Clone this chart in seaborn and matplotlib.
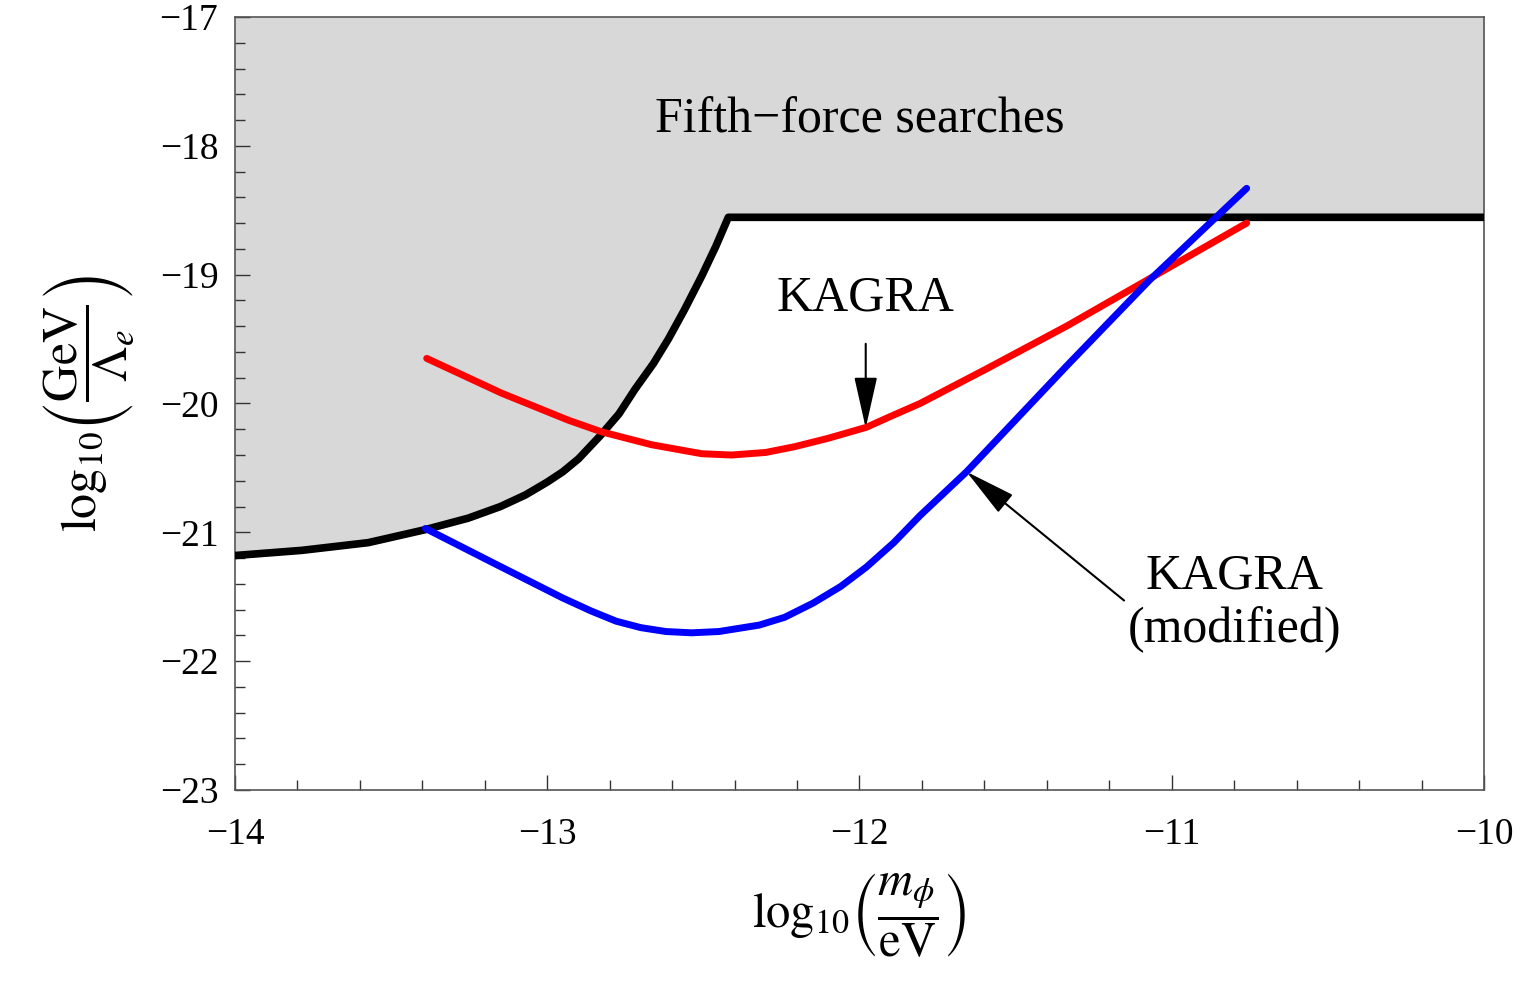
import numpy as np
import pandas as pd
import seaborn as sns
import matplotlib.pyplot as plt
from matplotlib.ticker import MultipleLocator

# values (log10 m_phi / eV , log10 GeV / Lambda_e)
fifth_x = [-14.0, -13.786, -13.573, -13.392, -13.253, -13.15, -13.07, -13.0, -12.95,
           -12.9, -12.83, -12.77, -12.719, -12.66, -12.612, -12.56, -12.505, -12.46,
           -12.42, -10.0]
fifth_y = [-21.18, -21.14, -21.08, -20.98, -20.89, -20.80, -20.71, -20.61, -20.53,
           -20.43, -20.25, -20.08, -19.89, -19.69, -19.50, -19.27, -19.01, -18.78,
           -18.555, -18.555]

kagra_x = [-13.386, -13.146, -12.932, -12.826, -12.666, -12.505, -12.41, -12.3, -12.207,
           -12.1, -11.978, -11.9, -11.806, -11.60, -11.337, -11.07, -10.76]
kagra_y = [-19.65, -19.92, -20.13, -20.22, -20.32, -20.39, -20.40, -20.38, -20.335,
           -20.27, -20.185, -20.10, -20.0, -19.74, -19.40, -19.03, -18.60]

mod_x = [-13.39, -13.179, -12.95, -12.86, -12.779, -12.7, -12.62, -12.538, -12.45,
         -12.321, -12.24, -12.149, -12.06, -11.978, -11.89, -11.806, -11.657,
         -11.337, -11.07, -10.76]
mod_y = [-20.97, -21.23, -21.51, -21.61, -21.69, -21.74, -21.77, -21.78, -21.77,
         -21.72, -21.66, -21.55, -21.42, -21.27, -21.08, -20.87, -20.53,
         -19.71, -19.04, -18.33]

sns.set_style("ticks")
plt.rcParams['font.family'] = ['Liberation Serif', 'DejaVu Serif']
plt.rcParams['mathtext.fontset'] = 'stix'
plt.rcParams['text.color'] = 'black'
plt.rcParams['axes.labelcolor'] = 'black'

fig = plt.figure(figsize=(15.22, 9.81), dpi=100)
ax = fig.add_axes([0.1544, 0.1947, 0.8206, 0.788])

# excluded region (fifth-force)
ax.fill_between(fifth_x, fifth_y, -17, color='#d8d8d8', lw=0, zorder=0)

fifth = pd.DataFrame({'x': fifth_x, 'y': fifth_y})
kagra = pd.DataFrame({'x': kagra_x, 'y': kagra_y})
mod = pd.DataFrame({'x': mod_x, 'y': mod_y})

sns.lineplot(data=fifth, x='x', y='y', color='black', lw=5.5, sort=False, ax=ax, zorder=3)
sns.lineplot(data=kagra, x='x', y='y', color='#ff0000', lw=5, sort=False, ax=ax, zorder=4)
sns.lineplot(data=mod, x='x', y='y', color='#0000ff', lw=5, sort=False, ax=ax, zorder=5)
for ln in ax.get_lines():
    ln.set_solid_joinstyle('round')

ax.set_xlim(-14, -10)
ax.set_ylim(-23, -17)
ax.xaxis.set_major_locator(MultipleLocator(1))
ax.xaxis.set_minor_locator(MultipleLocator(0.2))
ax.yaxis.set_major_locator(MultipleLocator(1))
ax.yaxis.set_minor_locator(MultipleLocator(0.2))
ax.tick_params(which='major', direction='in', length=11, width=1, labelsize=27, colors='#333333', labelcolor='black')
ax.tick_params(axis='x', which='major', pad=20)
ax.tick_params(axis='y', which='major', pad=12)
ax.tick_params(which='minor', direction='in', length=7, width=1, colors='#333333')
for s in ax.spines.values():
    s.set_color('#555555')
    s.set_linewidth(1.2)

ax.set_xlabel(r'$\log_{10}\!\left(\dfrac{m_\phi}{\mathrm{eV}}\right)$', fontsize=35, labelpad=14)
ax.set_ylabel(r'$\log_{10}\!\left(\dfrac{\mathrm{GeV}}{\Lambda_e}\right)$', fontsize=36, labelpad=16)

ax.text(-12.0, -17.8, 'Fifth\u2212force searches', fontsize=36, ha='center', va='center')

arrow = dict(arrowstyle='-|>,head_length=1.6,head_width=0.36', mutation_scale=20, color='black', lw=1.5)
ax.annotate('KAGRA', xy=(-11.98, -20.19), xytext=(-11.98, -19.18), fontsize=36,
            ha='center', va='center', arrowprops=dict(arrow, shrinkA=14, shrinkB=0))
ax.annotate('KAGRA\n(modified)', xy=(-11.657, -20.53), xytext=(-10.8, -21.55), fontsize=36,
            ha='center', va='center', linespacing=1.2,
            arrowprops=dict(arrow, shrinkA=0, shrinkB=0, relpos=(0.0, 0.5)))

fig.savefig('out.png', dpi=100)
